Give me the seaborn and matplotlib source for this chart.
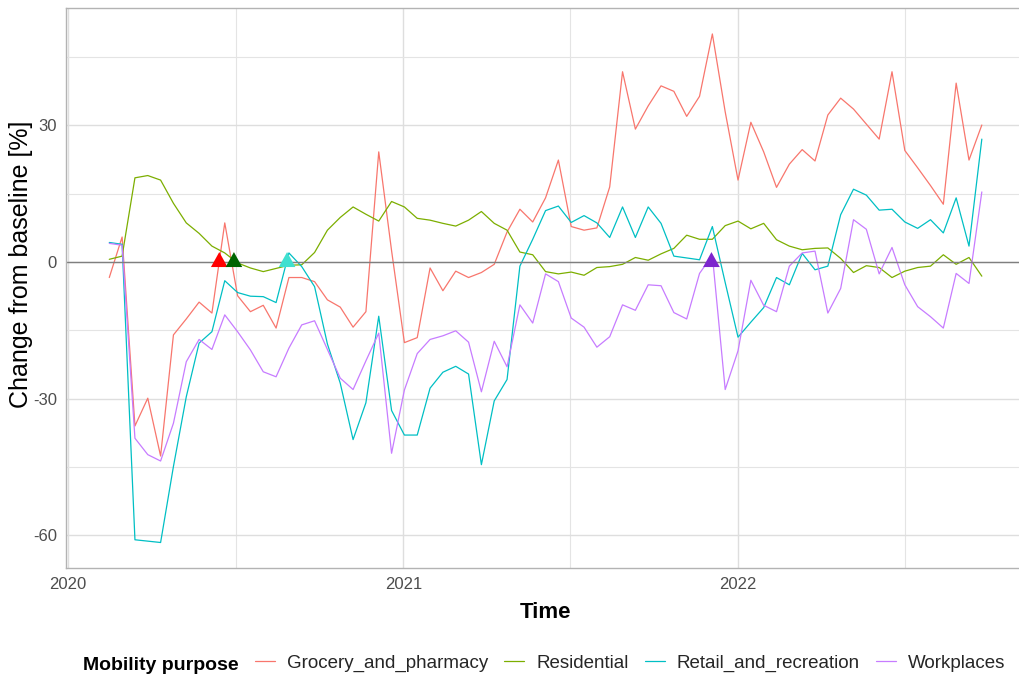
import numpy as np
import pandas as pd
import matplotlib
matplotlib.use("Agg")
import matplotlib.pyplot as plt
import matplotlib.dates as mdates
from matplotlib.lines import Line2D
from matplotlib.markers import MarkerStyle
from matplotlib.path import Path
from matplotlib.ticker import FixedLocator
import seaborn as sns

# ---------------- data ----------------
start_date = "2020-02-15"
n_periods = 69

purposes = ["Grocery_and_pharmacy", "Residential", "Retail_and_recreation", "Workplaces"]

grocery = [-3.4, 5.5, -36.0, -29.9, -42.6, -16.0, -12.5, -8.8, -11.2, 8.6,
           -7.4, -10.9, -9.5, -14.5, -3.4, -3.4, -4.3, -8.3, -9.9, -14.3,
           -10.9, 24.2, 2.5, -17.7, -16.6, -1.3, -6.3, -2.0, -3.4, -2.3,
           -0.5, 6.6, 11.6, 8.8, 14.1, 22.4, 7.8, 7.0, 7.5, 16.5,
           41.8, 29.2, 34.3, 38.7, 37.5, 32.0, 36.4, 50.1, 33.0, 18.0,
           30.7, 24.2, 16.4, 21.5, 24.7, 22.2, 32.3, 36.0, 33.6, 30.3,
           27.0, 41.8, 24.5, 20.7, 16.8, 12.7, 39.3, 22.4, 30.1]

residential = [0.6, 1.3, 18.5, 19.0, 18.0, 12.9, 8.6, 6.3, 3.5, 2.0,
               -0.2, -1.3, -2.1, -1.4, -0.7, -0.6, 2.1, 7.0, 9.8, 12.1,
               10.5, 9.0, 13.3, 12.1, 9.6, 9.2, 8.5, 7.9, 9.2, 11.1,
               8.5, 7.0, 2.2, 1.6, -2.1, -2.6, -2.2, -2.9, -1.2, -1.0,
               -0.5, 1.0, 0.4, 1.8, 3.0, 5.9, 5.0, 5.0, 8.0, 9.0,
               7.3, 8.5, 4.9, 3.5, 2.7, 3.0, 3.1, 0.8, -2.3, -0.8,
               -1.2, -3.4, -2.0, -1.2, -0.9, 1.6, -0.5, 1.0, -3.1]

retail = [4.3, 3.9, -61.0, -61.3, -61.6, -44.9, -29.6, -17.8, -15.3, -4.1,
          -6.7, -7.5, -7.6, -8.9, 2.0, -1.0, -5.4, -18.0, -26.6, -39.0,
          -30.9, -11.9, -32.6, -38.0, -38.0, -27.7, -24.2, -22.9, -24.6, -44.5,
          -30.5, -25.8, -0.9, 5.0, 11.3, 12.3, 8.7, 10.2, 8.6, 5.4,
          12.1, 5.4, 12.1, 8.5, 1.3, 0.9, 0.5, 7.8, -4.5, -16.5,
          -13.2, -10.0, -3.4, -5.0, 1.9, -1.7, -0.9, 10.4, 16.0, 14.7,
          11.4, 11.6, 8.8, 7.4, 9.3, 6.4, 14.1, 3.5, 27.0]

workplaces = [4.1, 3.7, -38.7, -42.3, -43.7, -35.4, -21.9, -17.0, -19.2, -11.6,
              -15.3, -19.3, -24.1, -25.2, -18.9, -13.8, -12.9, -19.2, -25.5, -28.0,
              -21.7, -15.6, -42.0, -28.1, -20.1, -17.0, -16.2, -15.1, -17.6, -28.5,
              -17.4, -23.0, -9.4, -13.4, -2.6, -4.3, -12.3, -14.3, -18.7, -16.4,
              -9.4, -10.6, -5.0, -5.2, -11.1, -12.5, -2.5, 1.5, -28.0, -19.5,
              -4.0, -9.5, -10.9, -0.9, 2.0, 2.4, -11.2, -5.8, 9.3, 7.2,
              -2.6, 3.2, -5.0, -9.8, -12.0, -14.5, -2.5, -4.7, 15.4]

event_dates = ["2020-06-14", "2020-06-30", "2020-08-27", "2021-12-03"]
event_values = [0, 0, 0, 0]
event_names = ["e1", "e2", "e3", "e4"]

# ---------------- style ----------------
line_colors = ["#F8766D", "#7CAE00", "#00BFC4", "#C77CFF"]
event_colors = ["#FF0000", "#006400", "#40E0D0", "#7D26CD"]

sns.set_style("white")
plt.rcParams["font.family"] = ["Liberation Sans", "DejaVu Sans"]
plt.rcParams["axes.unicode_minus"] = False

dates = pd.date_range(start_date, periods=n_periods, freq="14D")
df = pd.DataFrame({
    "Time": np.tile(dates.values, len(purposes)),
    "Change": np.concatenate([grocery, residential, retail, workplaces]),
    "Mobility purpose": np.repeat(purposes, n_periods),
})
ev = pd.DataFrame({"Time": pd.to_datetime(event_dates),
                   "Change": event_values,
                   "Event": event_names})

W, H = 1019, 676
fig = plt.figure(figsize=(W / 100, H / 100), dpi=100)
ax = fig.add_axes([66.2 / W, 108 / H, 958.7 / W, 560 / H])

sns.lineplot(data=df, x="Time", y="Change", hue="Mobility purpose",
             hue_order=purposes, palette=dict(zip(purposes, line_colors)),
             linewidth=0.9, estimator=None, legend=False, ax=ax, zorder=2)

ax.axhline(0, color="#7F7F7F", lw=1.0, zorder=2.5)

tri = MarkerStyle(Path([(-1.0, -0.6), (1.0, -0.6), (0.0, 1.2), (-1.0, -0.6)], closed=True))
sns.scatterplot(data=ev, x="Time", y="Change", hue="Event",
                palette=dict(zip(event_names, event_colors)),
                marker=tri, s=207, linewidth=0, legend=False, ax=ax, zorder=3)

ax.set_xlim(pd.Timestamp("2019-12-30"), pd.Timestamp("2022-11-10"))
ax.set_ylim(-67.2, 55.8)

ax.xaxis.set_major_locator(mdates.YearLocator())
ax.xaxis.set_major_formatter(mdates.DateFormatter("%Y"))
ax.xaxis.set_minor_locator(FixedLocator(mdates.date2num(pd.to_datetime(
    ["2020-07-02", "2021-07-02", "2022-07-02"]))))
ax.yaxis.set_major_locator(FixedLocator([-60, -30, 0, 30]))
ax.yaxis.set_minor_locator(FixedLocator([-45, -15, 15, 45]))

ax.set_axisbelow(True)
ax.grid(which="major", color="#DEDEDE", lw=1.0)
ax.grid(which="minor", color="#E4E4E4", lw=0.8)

ax.tick_params(which="major", length=2.8, width=0.8, color="#B3B3B3",
               labelsize=12, labelcolor="#4D4D4D", pad=4)
ax.tick_params(which="minor", length=0)
for s in ax.spines.values():
    s.set_color("#B3B3B3")
    s.set_linewidth(1.0)

ax.set_xlabel("")
ax.set_ylabel("")

fig.text(21 / W, 1 - 264 / H, "Change from baseline [%]", rotation=90,
         ha="center", va="center", fontsize=18, color="black")
fig.text(545.5 / W, 1 - 618 / H, "Time", ha="center", va="baseline",
         fontsize=16, fontweight="bold", color="black")

fig.text(83 / W, 1 - 670 / H, "Mobility purpose", ha="left", va="baseline",
         fontsize=14, fontweight="bold", color="black")
handles = [Line2D([], [], color=c, lw=0.9) for c in line_colors]
fig.legend(handles, purposes, loc="center left",
           bbox_to_anchor=(255 / W, 1 - 663.5 / H), ncol=4, frameon=False,
           fontsize=13.5, handlelength=1.07, handletextpad=0.64,
           columnspacing=0.85, borderpad=0, borderaxespad=0)

fig.savefig("out.png", dpi=100)
